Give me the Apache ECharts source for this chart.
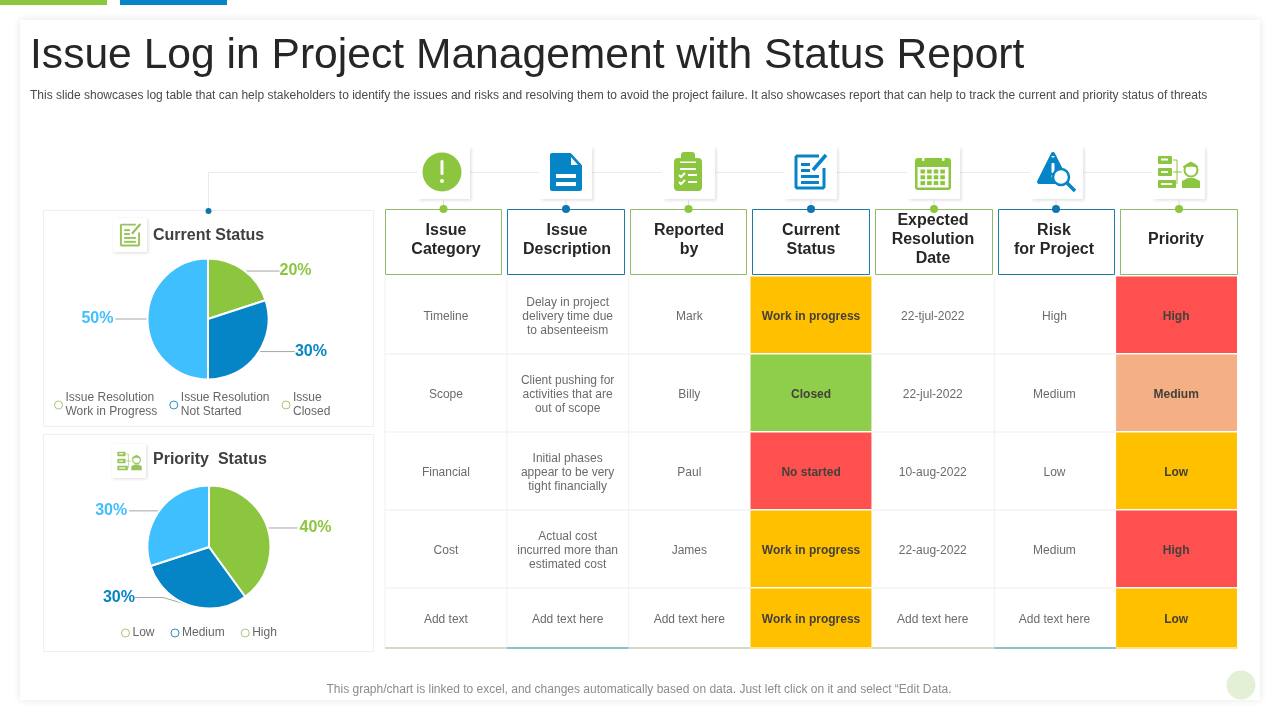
<!DOCTYPE html>
<html lang="en">
<head>
<meta charset="UTF-8">
<title>Issue Log in Project Management with Status Report</title>
<script src="https://cdn.jsdelivr.net/npm/echarts@6/dist/echarts.min.js"></script>
<style>
html,body{margin:0;padding:0;background:#fff}
#main{width:1280px;height:720px}
</style>
</head>
<body>
<div id="main"></div>
<script>
var titleText = 'Issue Log in Project Management with Status Report';
var subtitleText = 'This slide showcases log table that can help stakeholders to identify the issues and risks and resolving them to avoid the project failure. It also showcases report that can help to track the current and priority status of threats';
var footerText = 'This graph/chart is linked to excel, and changes automatically based on data. Just left click on it and select \u201cEdit Data.';

var columnNames = ['Issue\nCategory', 'Issue\nDescription', 'Reported\nby', 'Current\nStatus', 'Expected\nResolution\nDate', 'Risk\nfor Project', 'Priority'];
var rowIds = ['r1', 'r2', 'r3', 'r4', 'r5'];
var issueCategory = ['Timeline', 'Scope', 'Financial', 'Cost', 'Add text'];
var issueDescription = ['Delay in project\ndelivery time due\nto absenteeism', 'Client pushing for\nactivities that are\nout of scope', 'Initial phases\nappear to be very\ntight financially', 'Actual cost\nincurred more than\nestimated cost', 'Add text here'];
var reportedBy = ['Mark', 'Billy', 'Paul', 'James', 'Add text here'];
var currentStatus = ['Work in progress', 'Closed', 'No started', 'Work in progress', 'Work in progress'];
var resolutionDate = ['22-tjul-2022', '22-jul-2022', '10-aug-2022', '22-aug-2022', 'Add text here'];
var projectRisk = ['High', 'Medium', 'Low', 'Medium', 'Add text here'];
var priority = ['High', 'Medium', 'Low', 'High', 'Low'];

var currentStatusNames = ['Issue\nClosed', 'Issue Resolution\nNot Started', 'Issue Resolution\nWork in Progress'];
var currentStatusShares = [20, 30, 50];
var priorityNames = ['High', 'Medium', 'Low'];
var priorityShares = [40, 30, 30];

var GREEN = '#8cc63f', BLUE = '#0685c6', LIGHT = '#40bfff';
var HEAD_GREEN = '#93b867', HEAD_BLUE = '#1f7b9f';
var cellColors = {'Work in progress': '#ffc000', 'Closed': '#8fce4b', 'No started': '#ff5050', 'High': '#ff5050', 'Medium': '#f4b084', 'Low': '#ffc000'};
var FONT = '"Liberation Sans", Arial, sans-serif';

var tableColumns = [issueCategory, issueDescription, reportedBy, currentStatus, resolutionDate, projectRisk, priority];
var coloredColumns = [3, 6];
var cells = [];
tableColumns.forEach(function (col, c) {
  col.forEach(function (txt, r) { cells.push([c, r, txt]); });
});

// icons are drawn around 0,0 about 40px wide
function rect(x, y, w, h, fill, r) {
  return {type: 'rect', shape: {x: x, y: y, width: w, height: h, r: r || 0}, style: {fill: fill}};
}
function line(pts, color, w) {
  return {type: 'polyline', shape: {points: pts}, style: {stroke: color, lineWidth: w, fill: null}};
}
function icon(kind, color) {
  var W = '#fff';
  if (kind == 'alert') return [
    {type: 'circle', shape: {cx: 0, cy: 0, r: 19.5}, style: {fill: color}},
    rect(-1.5, -12, 3, 15, W, 1.5),
    {type: 'circle', shape: {cx: 0, cy: 9, r: 2}, style: {fill: W}}
  ];
  if (kind == 'doc') return [
    {type: 'polygon', shape: {points: [[-14, -17], [4, -17], [14, -6], [14, 17], [-14, 17]]}, style: {fill: color, stroke: color, lineWidth: 4, lineJoin: 'round'}},
    {type: 'polygon', shape: {points: [[5, -15], [12, -7], [5, -7]]}, style: {fill: W}},
    rect(-10, 2, 20, 4, W), rect(-10, 10, 20, 4, W)
  ];
  if (kind == 'clip') return [
    rect(-14, -14, 28, 33, color, 4),
    rect(-7, -20, 14, 9, color, 3),
    rect(-8, -10.5, 16, 1.5, W),
    rect(-8, -4, 16, 2, W),
    line([[-9, 3], [-7, 5], [-3, 1]], W, 2), rect(0, 2, 9, 2, W),
    line([[-9, 10], [-7, 12], [-3, 8]], W, 2), rect(0, 9, 9, 2, W)
  ];
  if (kind == 'edit') return [
    line([[9, -16], [-13, -16], [-14, -15], [-14, 15], [-13, 16], [13, 16], [14, 15], [14, -4]], color, 3),
    rect(-9, -9, 9, 3, color), rect(-9, -3, 9, 3, color), rect(-9, 3, 18, 3, color), rect(-9, 9, 18, 3, color),
    line([[3, -2], [16, -17]], color, 3.5)
  ];
  if (kind == 'cal') {
    var cal = [
      rect(-18, -14, 36, 32, color, 3),
      rect(-15.5, -5, 31, 20.5, W),
      rect(-11, -18, 2.5, 7, W, 1), rect(9, -18, 2.5, 7, W, 1)
    ];
    for (var i = 0; i < 4; i++) for (var j = 0; j < 3; j++) cal.push(rect(-12.5 + i * 6.6, -2.5 + j * 5.8, 4.6, 4, color));
    return cal;
  }
  if (kind == 'risk') return [
    {type: 'polygon', shape: {points: [[-3, -18], [-17, 10], [11, 10]]}, style: {fill: color, stroke: color, lineWidth: 4, lineJoin: 'round'}},
    {type: 'polygon', shape: {points: [[-3, -14], [-5, -16], [-1, -16]]}, style: {fill: W}},
    rect(-4.5, -9, 3, 10, W, 1), rect(-4.5, 3, 3, 3, W, 1),
    line([[11, 11], [19, 19]], color, 3.5),
    {type: 'circle', shape: {cx: 5, cy: 5, r: 8}, style: {fill: W, stroke: color, lineWidth: 2.5}}
  ];
  if (kind == 'org') return [
    rect(-20, -16, 14, 8, color, 1), rect(-17, -13.5, 7, 2, W),
    rect(-20, -4, 14, 8, color, 1), rect(-17, -1, 7, 2, W),
    rect(-20, 8, 18, 8, color, 1), rect(-17, 11, 11, 2, W),
    line([[-5, -12], [-1, -12], [-1, 12]], color, 1), line([[-5, 0], [4, 0]], color, 1),
    {type: 'circle', shape: {cx: 13, cy: -2, r: 6.5}, style: {fill: W, stroke: color, lineWidth: 2}},
    {type: 'polygon', shape: {points: [[5, -5], [13, -10], [20, -5], [13, -6]]}, style: {fill: color, stroke: color, lineWidth: 1}},
    {type: 'polygon', shape: {points: [[4, 16], [4, 9], [10, 6], [16, 6], [22, 9], [22, 16]]}, style: {fill: color}}
  ];
  return [];
}

var graphics = [];
// slide frame
graphics.push({type: 'rect', z: -10, shape: {x: 20, y: 20, width: 1240, height: 680}, style: {fill: '#fff', shadowBlur: 8, shadowColor: 'rgba(0,0,0,0.10)'}});
graphics.push({type: 'rect', shape: {x: 0, y: 0, width: 107, height: 5}, style: {fill: GREEN}});
graphics.push({type: 'rect', shape: {x: 120, y: 0, width: 107, height: 5}, style: {fill: BLUE}});
graphics.push({type: 'text', x: 30, y: 56, style: {text: titleText, font: '42.6px ' + FONT, fill: '#262626', textAlign: 'left', textVerticalAlign: 'middle'}});
graphics.push({type: 'text', x: 30, y: 96, style: {text: subtitleText, font: '12px ' + FONT, fill: '#4a4a4a', textAlign: 'left', textVerticalAlign: 'middle'}});
graphics.push({type: 'text', x: 639, y: 690, style: {text: footerText, font: '12px ' + FONT, fill: '#8c8c8c', textAlign: 'center', textVerticalAlign: 'middle'}});
graphics.push({type: 'circle', shape: {cx: 1241, cy: 685, r: 14.5}, style: {fill: '#e3f0d6'}});

// left panels
graphics.push({type: 'rect', shape: {x: 43.5, y: 210.5, width: 330, height: 216}, style: {fill: '#fff', stroke: '#efefef', lineWidth: 1}});
graphics.push({type: 'rect', shape: {x: 43.5, y: 434.5, width: 330, height: 217}, style: {fill: '#fff', stroke: '#efefef', lineWidth: 1}});

// connector behind the icon boxes
var iconKinds = ['alert', 'doc', 'clip', 'edit', 'cal', 'risk', 'org'];
var iconCenters = [442, 566, 688, 810, 933, 1056, 1178];
var boxLefts = [417, 539, 662, 784, 907, 1030, 1152];
var headerLefts = [385, 507, 630, 752, 875, 998, 1120];
var headerWidths = [116, 117, 116, 117, 117, 116, 117];
var headerTextX = [446, 567, 689, 811, 933, 1054, 1176];
var dotX = [443.5, 566, 688.5, 811, 934, 1056, 1179];
graphics.push({type: 'polyline', shape: {points: [[208.5, 211], [208.5, 172.5], [1180, 172.5]]}, style: {stroke: '#ebebeb', lineWidth: 1, fill: null}});
graphics.push({type: 'circle', shape: {cx: 208.5, cy: 211, r: 3}, style: {fill: '#0f76a8'}});

columnNames.forEach(function (name, c) {
  var isBlue = c % 2 == 1;
  var col = isBlue ? BLUE : GREEN;
  graphics.push({type: 'rect', shape: {x: boxLefts[c], y: 146, width: 53, height: 53}, style: {fill: '#fff', shadowBlur: 3, shadowOffsetX: 1.5, shadowOffsetY: 1.5, shadowColor: 'rgba(0,0,0,0.12)'}});
  graphics.push({type: 'group', x: iconCenters[c], y: 172, children: icon(iconKinds[c], col)});
  graphics.push({type: 'polyline', shape: {points: [[dotX[c], 199], [dotX[c], 206]]}, style: {stroke: '#dcdcdc', lineWidth: 1, fill: null}});
  graphics.push({type: 'rect', shape: {x: headerLefts[c] + 0.5, y: 209.5, width: headerWidths[c], height: 65}, style: {fill: '#fff', stroke: isBlue ? HEAD_BLUE : HEAD_GREEN, lineWidth: 1}});
  graphics.push({type: 'circle', z: 5, shape: {cx: dotX[c], cy: 209, r: 4}, style: {fill: isBlue ? '#0f76b0' : GREEN}});
  graphics.push({type: 'text', x: headerTextX[c], y: 240, style: {text: name, font: 'bold 16px ' + FONT, lineHeight: 19, fill: '#262626', textAlign: 'center', textVerticalAlign: 'middle'}});
});

// panel titles
function smallHead(x, y, kind, scale, title, titleY) {
  graphics.push({type: 'rect', shape: {x: x, y: y, width: 34, height: 34}, style: {fill: '#fff', shadowBlur: 3, shadowOffsetX: 1, shadowOffsetY: 1, shadowColor: 'rgba(0,0,0,0.14)'}});
  graphics.push({type: 'group', x: x + 17, y: y + 17, scaleX: scale, scaleY: scale, children: icon(kind, '#97c459')});
  graphics.push({type: 'text', x: 153, y: titleY, style: {text: title, font: 'bold 16px ' + FONT, fill: '#404040', textAlign: 'left', textVerticalAlign: 'middle'}});
}
smallHead(113, 218, 'edit', 0.65, 'Current Status', 236);
smallHead(112, 444, 'org', 0.58, 'Priority  Status', 460);

function pieSeries(name, center, radius, names, shares, colors, lineLens, shifts) {
  return {
    type: 'pie', name: name, center: center, radius: radius, silent: true,
    itemStyle: {borderColor: '#fff', borderWidth: 2},
    label: {show: true, formatter: '{c}%', fontFamily: FONT, fontSize: 16, fontWeight: 'bold', distanceToLabelLine: 2},
    labelLine: {show: true, length: 0.01, lineStyle: {color: '#a6a6a6', width: 1}},
    // giving x and y makes ECharts redraw the guide line to the moved label
    labelLayout: function (p) {
      var s = shifts[p.dataIndex], r = p.labelRect;
      if (!s[0] && !s[1]) return {};
      return {x: (p.align == 'right' ? r.x + r.width : r.x) + s[0], y: r.y + r.height / 2 + s[1]};
    },
    data: names.map(function (n, i) {
      return {name: n, value: shares[i], itemStyle: {color: colors[i]}, label: {color: colors[i]}, labelLine: {length2: lineLens[i]}};
    })
  };
}

function legendBase(left, top, names, ringColors, gap) {
  return {
    left: left, top: top, orient: 'horizontal', icon: 'circle', itemWidth: 8, itemHeight: 8, itemGap: gap, selectedMode: false,
    textStyle: {color: '#666', fontSize: 12, fontFamily: FONT, lineHeight: 14, padding: [0, 0, 0, -2]},
    data: names.map(function (n, i) {
      return {name: n, itemStyle: {color: '#fff', borderColor: ringColors[i], borderWidth: 1}};
    })
  };
}

var option = {
  animation: false,
  backgroundColor: '#fff',
  textStyle: {fontFamily: FONT},
  grid: {left: 385, top: 276, width: 853, height: 390, show: false},
  xAxis: {type: 'category', data: columnNames, show: false},
  yAxis: {type: 'category', data: rowIds, inverse: true, show: false},
  legend: [
    legendBase(49, 386, ['Issue Resolution\nWork in Progress', 'Issue Resolution\nNot Started', 'Issue\nClosed'], ['#a8c77c', '#2f8fbb', '#a8c77c'], 12),
    legendBase(116, 621, ['Low', 'Medium', 'High'], ['#a8c77c', '#2f8fbb', '#a8c77c'], 16)
  ],
  series: [
    pieSeries('Current Status', [208, 319], 60.5, currentStatusNames, currentStatusShares, [GREEN, BLUE, LIGHT], [34, 36, 32], [[0, 1], [0, -3], [0, 0]]),
    pieSeries('Priority Status', [209, 547], 61.5, priorityNames, priorityShares, [GREEN, BLUE, LIGHT], [30, 28, 30], [[0, 0], [-25, -8], [0, 0]]),
    {
      type: 'custom', coordinateSystem: 'cartesian2d', silent: true, clip: false,
      encode: {x: 0, y: 1},
      data: cells.map(function (d) { return [d[0], d[1]]; }),
      renderItem: function (params, api) {
        var c = api.value(0), r = api.value(1), txt = cells[params.dataIndex][2];
        var p = api.coord([c, r]), s = api.size([1, 1]);
        var x = p[0] - s[0] / 2, y = p[1] - s[1] / 2;
        var colored = coloredColumns.indexOf(c) >= 0;
        var h = r == rowIds.length - 1 ? s[1] * 0.77 : s[1];
        var midY = y + h / 2 + 2;
        var kids = [];
        if (colored) {
          kids.push({type: 'rect', shape: {x: x, y: y + 0.5, width: s[0] - 1, height: h - 1.5}, style: {fill: cellColors[txt]}});
        } else {
          kids.push({type: 'polyline', shape: {points: [[x + s[0], y], [x + s[0], y + h]]}, style: {stroke: '#f1f1f1', lineWidth: 1, fill: null}});
          if (c == 0) kids.push({type: 'polyline', shape: {points: [[x, y], [x, y + h]]}, style: {stroke: '#f1f1f1', lineWidth: 1, fill: null}});
          if (r < rowIds.length - 1) kids.push({type: 'polyline', shape: {points: [[x, y + h], [x + s[0], y + h]]}, style: {stroke: '#ededed', lineWidth: 1, fill: null}});
        }
        if (r == rowIds.length - 1) {
          var foot = colored ? '#ffe28a' : (c % 2 == 1 ? '#8fc0cc' : '#cfdcc0');
          kids.push({type: 'polyline', shape: {points: [[x, y + h], [x + s[0], y + h]]}, style: {stroke: foot, lineWidth: 2, fill: null}});
        }
        kids.push({type: 'text', style: {
          x: x + s[0] / 2 - c * 0.15, y: midY, text: txt, align: 'center', verticalAlign: 'middle', lineHeight: 14,
          font: (colored ? 'bold ' : '') + '12px ' + FONT, fill: colored ? '#44403a' : '#6b6b6b'
        }});
        return {type: 'group', children: kids};
      }
    }
  ],
  graphic: {elements: graphics}
};

var chart = echarts.init(document.getElementById('main'));
chart.setOption(option);
</script>
</body>
</html>
